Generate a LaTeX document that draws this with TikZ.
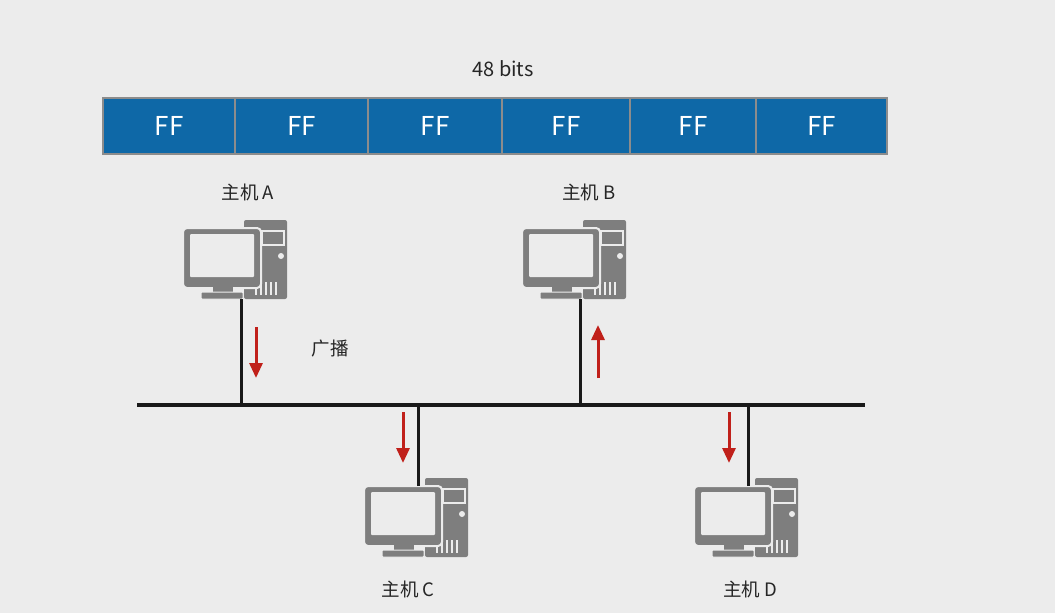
\documentclass[tikz,border=0pt]{standalone}
\usepackage{fontspec}
\setmainfont{Noto Sans CJK SC}
\usepackage{tikz}
\usetikzlibrary{arrows.meta}
\usepackage{xcolor}
\definecolor{bgcol}{HTML}{ECECEC}
\definecolor{ffblue}{HTML}{0E68A7}
\definecolor{ffedge}{HTML}{8C8C8C}
\definecolor{pcgray}{HTML}{7E7E7E}
\definecolor{sigred}{HTML}{C0201A}

\begin{document}
\begin{tikzpicture}[x=1pt,y=-1pt]

\tikzset{ffbox/.style = {draw=ffedge,line width=2pt,fill=ffblue,text=white,minimum height=56pt,inner sep=0pt,font=\fontsize{26}{28}\selectfont}}
\tikzset{label/.style = {text=black!85,inner sep=0pt,font=\fontsize{18.5}{22}\selectfont}}
\tikzset{bus/.style = {line width=4pt,black!90}}
\tikzset{wire/.style = {line width=3pt,black!90}}
\tikzset{sig/.style = {line width=3pt,sigred,-{Triangle[length=15pt,width=13pt]}}}
\tikzset{pc/.pic = {
  \fill[pcgray,rounded corners=2pt] (0,0) rectangle (43,79);
  \draw[bgcol,line width=1.5pt,fill=pcgray] (18,11) rectangle (40,25);
  \fill[bgcol] (37,36) circle (3pt);
  \foreach \x in {12,17,22,27,32} \draw[bgcol,line width=1.5pt] (\x,62) -- (\x,75);
  \draw[bgcol,line width=2pt,fill=pcgray,rounded corners=4pt] (-61,8) rectangle (17,68);
  \fill[bgcol,rounded corners=1pt] (-54,14) rectangle (10,57);
  \fill[pcgray] (-31,67) rectangle (-11,73);
  \draw[bgcol,line width=1pt,fill=pcgray,rounded corners=1pt] (-43,72) rectangle (-1,79);
  \coordinate (-top) at (-7,8);
  \coordinate (-bottom) at (-3,79);
}}

\fill[bgcol] (0,0) rectangle (1055,613);
\useasboundingbox (0,0) rectangle (1055,613);

% frame of 6 bytes
\node[label,font=\fontsize{20}{24}\selectfont] (bits) at (503,69) {48 bits};
\foreach \i/\l/\r in {1/103/235,2/235/368,3/368/502,4/502/630,5/630/756,6/756/887}
  \node[ffbox,minimum width={(\r-\l)*1pt}] (ff\i) at ({(\l+\r)/2},126) {FF};

% hosts
\pic (pcA) at (244,220) {pc};
\pic (pcB) at (583,220) {pc};
\pic (pcC) at (425,478) {pc};
\pic (pcD) at (755,478) {pc};
\node[label] (hostA) at (248,192) {主机 A};
\node[label] (hostB) at (589,192) {主机 B};
\node[label] (hostC) at (408,589) {主机 C};
\node[label] (hostD) at (750,589) {主机 D};

% bus
\coordinate (busL) at (137,405);
\coordinate (busR) at (865,405);
\draw[bus] (busL) -- (busR);
\draw[wire] (pcA-bottom) -- (pcA-bottom |- busL);
\draw[wire] (pcB-bottom) -- (pcB-bottom |- busL);
\draw[wire] (pcC-top) -- (pcC-top |- busL);
\draw[wire] (pcD-top) -- (pcD-top |- busL);

% signal arrows
\coordinate (sA1) at (256,327);
\coordinate (sA2) at (256,378);
\coordinate (sB1) at (598,378);
\coordinate (sB2) at (598,325);
\coordinate (sC1) at (403,412);
\coordinate (sC2) at (403,463);
\coordinate (sD1) at (729,412);
\coordinate (sD2) at (729,463);
\draw[sig] (sA1) -- (sA2);
\draw[sig] (sB1) -- (sB2);
\draw[sig] (sC1) -- (sC2);
\draw[sig] (sD1) -- (sD2);
\node[label] (bcast) at (330,349) {广播};
\end{tikzpicture}
\end{document}
